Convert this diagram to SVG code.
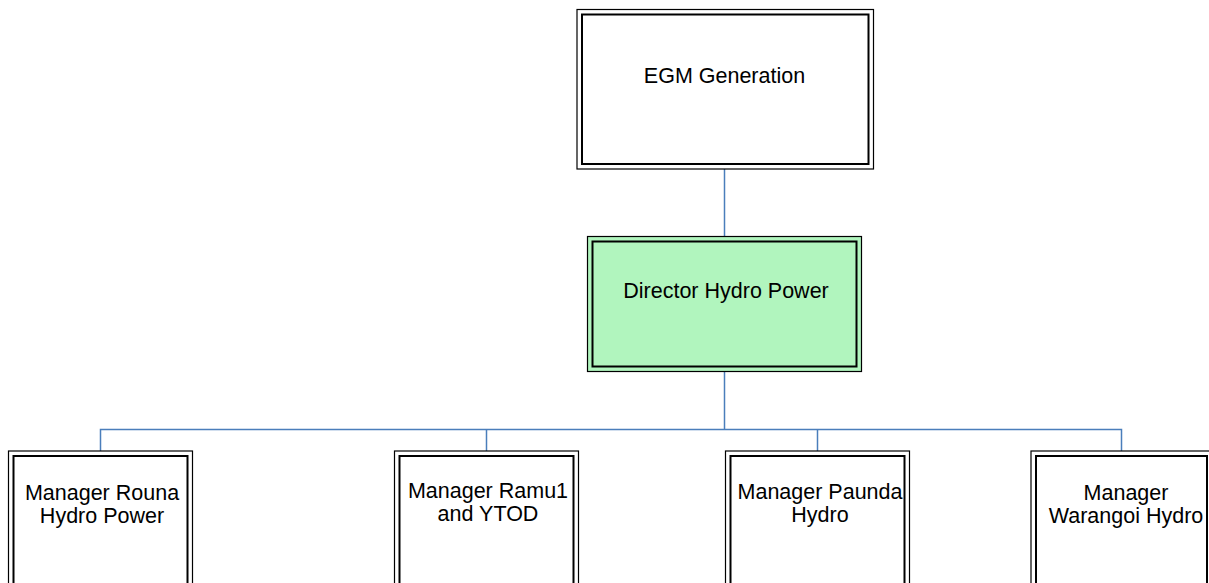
<svg xmlns="http://www.w3.org/2000/svg" width="1209" height="583" viewBox="0 0 1209 583">
<style>
.outer{fill:none;stroke:#000;stroke-width:1.2}
.inner{fill:none;stroke:#000;stroke-width:2}
.bg{fill:#fff;stroke:none}
.green{fill:#b1f5be;stroke:none}
.t{font-family:"Liberation Sans",Arial,sans-serif;font-size:21.5px;fill:#000;text-anchor:middle}
.c{fill:none;stroke:#4a7ebb;stroke-width:1.5}
</style>
<rect width="1209" height="583" fill="#fff"/>
<g id="connectors">
<path class="c" d="M724.5,169 V236"/>
<path class="c" d="M724.5,372 V429.5"/>
<path class="c" d="M100.5,451 V429.5 H1121.5 V451"/>
<path class="c" d="M486.5,429.5 V451"/>
<path class="c" d="M817.5,429.5 V451"/>
</g>
<g id="egm-generation">
<rect class="bg" x="577" y="9.5" width="296.5" height="159.5"/>
<rect class="outer" x="577" y="9.5" width="296.5" height="159.5"/>
<rect class="inner" x="582" y="14.5" width="286.5" height="149.5"/>
<text class="t" x="724.5" y="83">EGM Generation</text>
</g>
<g id="director-hydro-power">
<rect class="green" x="587.5" y="236.5" width="274" height="135"/>
<rect class="outer" x="587.5" y="236.5" width="274" height="135"/>
<rect class="inner" x="592.5" y="241.5" width="264" height="125"/>
<text class="t" x="726" y="298">Director Hydro Power</text>
</g>
<g id="manager-rouna">
<rect class="outer" x="8.5" y="451" width="184" height="150"/>
<rect class="inner" x="13.5" y="456" width="174" height="150"/>
<text class="t" x="102" y="500">Manager Rouna</text>
<text class="t" x="102" y="523">Hydro Power</text>
</g>
<g id="manager-ramu">
<rect class="outer" x="394.5" y="451" width="184" height="150"/>
<rect class="inner" x="399.5" y="456" width="174" height="150"/>
<text class="t" x="488" y="498">Manager Ramu1</text>
<text class="t" x="488" y="521">and YTOD</text>
</g>
<g id="manager-paunda">
<rect class="outer" x="725.5" y="451" width="184" height="150"/>
<rect class="inner" x="730.5" y="456" width="174" height="150"/>
<text class="t" x="820" y="499">Manager Paunda</text>
<text class="t" x="820" y="522">Hydro</text>
</g>
<g id="manager-warangoi">
<rect class="outer" x="1031" y="451" width="181" height="150"/>
<rect class="inner" x="1036" y="456" width="171" height="150"/>
<text class="t" x="1126" y="500">Manager</text>
<text class="t" x="1126" y="523">Warangoi Hydro</text>
</g>
</svg>
